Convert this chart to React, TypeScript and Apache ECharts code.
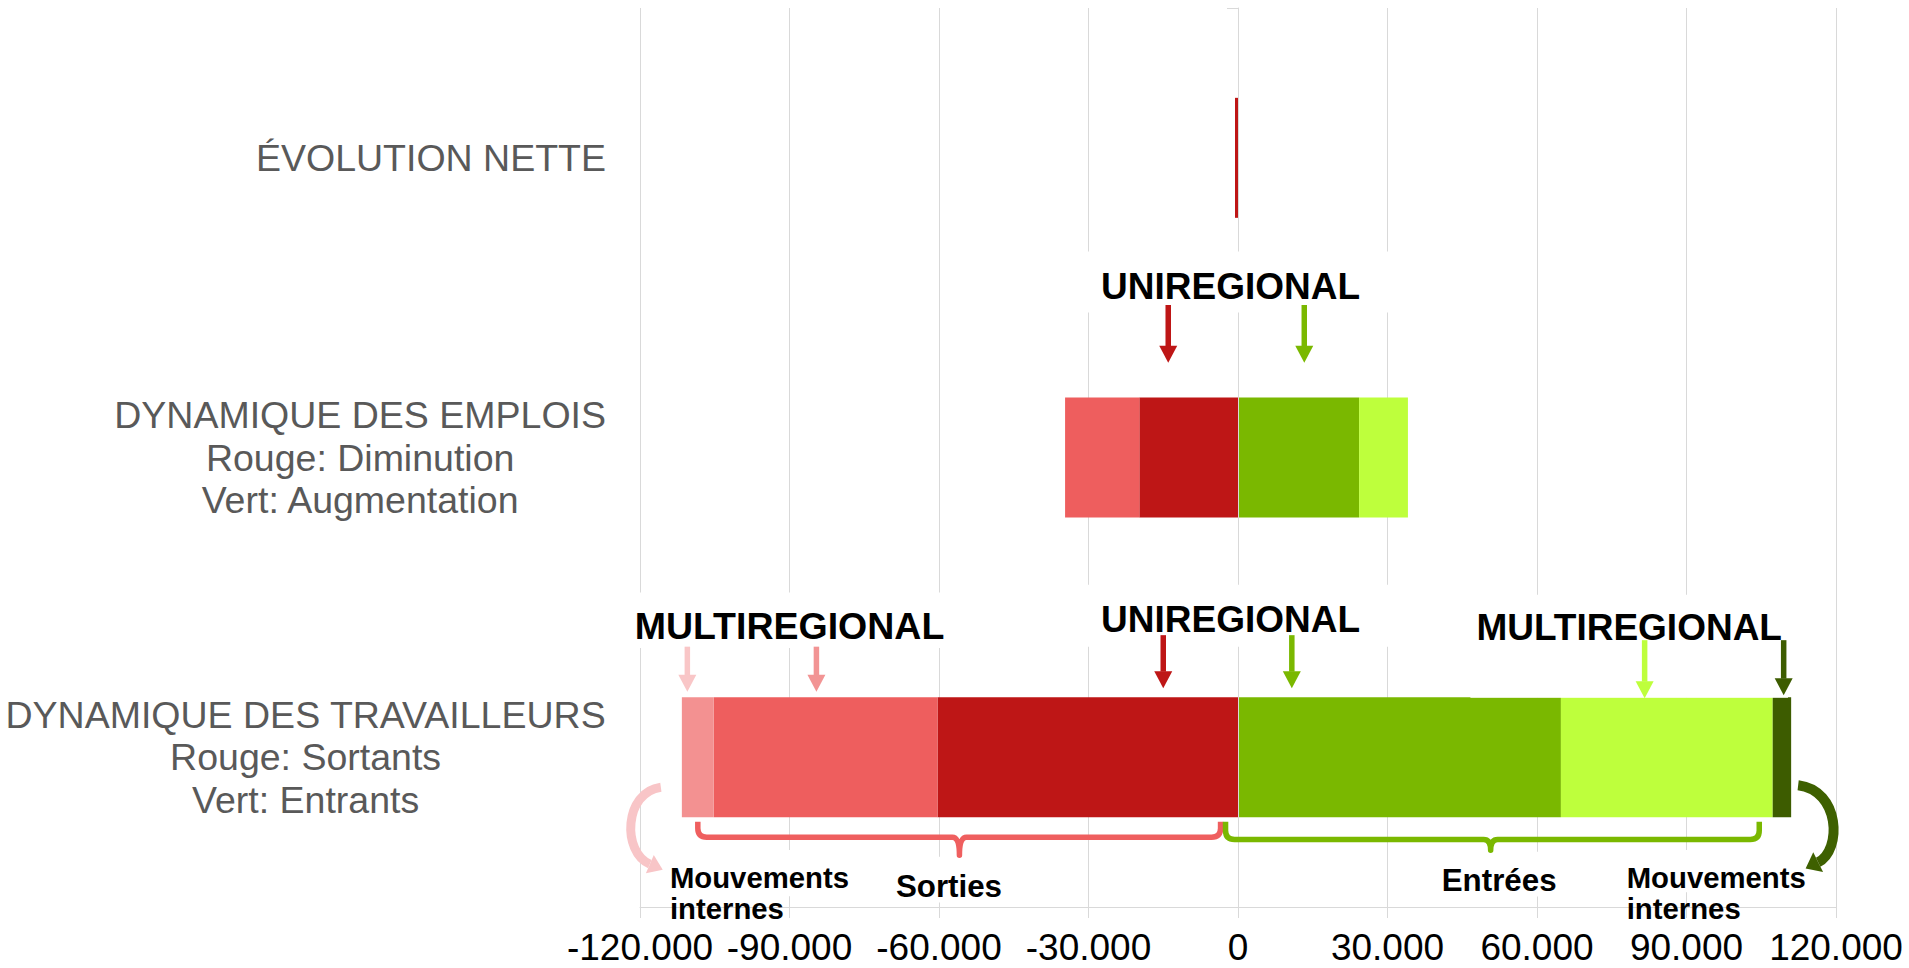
import React, { useEffect, useRef } from 'react';
import * as echarts from 'echarts';

// ---------------- DATA ----------------
const categories = ['ÉVOLUTION NETTE', 'DYNAMIQUE DES EMPLOIS', 'DYNAMIQUE DES TRAVAILLEURS'];
const categorySubtitles: string[][] = [[], ['Rouge: Diminution', 'Vert: Augmentation'], ['Rouge: Sortants', 'Vert: Entrants']];

const xMin = -120000;
const xMax = 120000;
const xInterval = 30000;

const evolutionNette = [-600, null, null];
const sortiesUniregional = [null, -19800, -60300];
const sortiesMultiregional = [null, -14900, -44900];
const sortiesInternes = [null, null, -6400];
const entreesUniregional = [null, 24300, 64800];
const entreesMultiregional = [null, 9800, 42500];
const entreesInternes = [null, null, 3700];

// annotation anchors (in data units / category index)
const regionLabels = [
  { text: 'UNIREGIONAL', x: -1500, cat: 1 },
  { text: 'MULTIREGIONAL', x: -90000, cat: 2 },
  { text: 'UNIREGIONAL', x: -1500, cat: 2 },
  { text: 'MULTIREGIONAL', x: 78500, cat: 2 },
];
const arrowTargets = [
  { x: -14000, cat: 1 },
  { x: 13300, cat: 1 },
  { x: -110500, cat: 2 },
  { x: -84600, cat: 2 },
  { x: -15000, cat: 2 },
  { x: 10800, cat: 2 },
  { x: 81600, cat: 2 },
  { x: 109500, cat: 2 },
];
const braceRanges = [
  { from: -108400, to: -3500, tip: -55900, cat: 2 },
  { from: -2500, to: 104600, tip: 50700, cat: 2 },
];
const bottomLabels = [
  { text: 'Mouvements', x: -114000, cat: 2 },
  { text: 'internes', x: -114000, cat: 2 },
  { text: 'Sorties', x: -58000, cat: 2 },
  { text: 'Entrées', x: 52400, cat: 2 },
  { text: 'Mouvements', x: 78000, cat: 2 },
  { text: 'internes', x: 78000, cat: 2 },
];

// ---------------- STYLES / LAYOUT ----------------
const FONT = "'Liberation Sans', Arial, Helvetica, sans-serif";
const C_DARKRED = '#BE1616';
const C_SALMON = '#EE5E5E';
const C_PINK = '#F39191';
const C_GREEN = '#7AB800';
const C_LIME = '#BEFF3C';
const C_DARKGREEN = '#3D5C00';

const regionLabelStyle = [
  { dy: -171, pad: [16.5, 34, 7.5, 20], fontSize: 37 },
  { dy: -131, pad: [15, 4, 3, 6], fontSize: 37.5 },
  { dy: -138, pad: [16, 34, 9, 20], fontSize: 37 },
  { dy: -130, pad: [14, 6, 52, 6], fontSize: 37 },
];
const arrowStyle = [
  { color: C_DARKRED, dyTop: -152.5, dyTip: -94.8 },
  { color: C_GREEN, dyTop: -152.5, dyTip: -94.8 },
  { color: '#F9C6C7', dyTop: -110.5, dyTip: -65.5 },
  { color: '#F29494', dyTop: -110.5, dyTip: -65.5 },
  { color: C_DARKRED, dyTop: -122, dyTip: -69 },
  { color: C_GREEN, dyTop: -122, dyTip: -69 },
  { color: C_LIME, dyTop: -117, dyTip: -59 },
  { color: C_DARKGREEN, dyTop: -117, dyTip: -62 },
];
const braceStyle = [
  { color: '#EF5F5F', dyTop: 64.5, dyLine: 80, dyTip: 98 },
  { color: C_GREEN, dyTop: 64.5, dyLine: 82.3, dyTip: 93 },
];
const bottomLabelStyle = [
  { align: 'left', dy: 120.5, fontSize: 29.3, pad: [13, 2, 4, 2], bg: true },
  { align: 'left', dy: 151.5, fontSize: 29.3, pad: [0, 0, 0, 0], bg: false },
  { align: 'center', dy: 129.8, fontSize: 31.3, pad: [14.5, 3, 0, 3], bg: true },
  { align: 'center', dy: 123.8, fontSize: 31.3, pad: [13.5, 3, 0, 3], bg: true },
  { align: 'left', dy: 120.5, fontSize: 29.3, pad: [13, 2, 0, 2], bg: true },
  { align: 'left', dy: 151.5, fontSize: 29.3, pad: [0, 0, 0, 0], bg: false },
];

const sum = (arr: (number | null)[][], i: number) => arr.reduce((s, a) => s + (a[i] || 0), 0);
const travIdx = 2;
const leftEnd = sum([sortiesUniregional, sortiesMultiregional, sortiesInternes], travIdx);
const rightEnd = sum([entreesUniregional, entreesMultiregional, entreesInternes], travIdx);

const curveStyle = [
  { x: leftEnd, cat: travIdx, color: '#F8C5C7', width: 9, pts: [[-21, 30], [-58, 35], [-60, 95], [-32, 107]], headLen: 14, headW: 20 },
  { x: rightEnd, cat: travIdx, color: '#3E6000', width: 10, pts: [[7, 28], [49, 33], [51, 93], [27, 105]], headLen: 14, headW: 22 },
];

type Item = any;
const items: Item[] = [];
regionLabels.forEach((l, i) => items.push({ kind: 'label', ...l, ...regionLabelStyle[i], align: 'center', bg: true }));
bottomLabels.forEach((l, i) => items.push({ kind: 'label', ...l, ...bottomLabelStyle[i] }));
arrowTargets.forEach((a, i) => items.push({ kind: 'arrow', ...a, ...arrowStyle[i] }));
braceRanges.forEach((b, i) => items.push({ kind: 'brace', x: b.from, cat: b.cat, range: b, ...braceStyle[i] }));
curveStyle.forEach((c) => items.push({ kind: 'curve', ...c }));

function fmt(v: number) {
  if (v === 0) return '0';
  const s = Math.abs(v).toString().replace(/\B(?=(\d{3})+(?!\d))/g, '.');
  return (v < 0 ? '-' : '') + s;
}

function renderItem(params: any, api: any) {
  const a = items[params.dataIndex];
  const p = api.coord([a.x, a.cat]);
  const px = p[0];
  const py = p[1];
  if (a.kind === 'label') {
    const fs = a.fontSize;
    const lh = fs;
    const pad = a.pad;
    let x = px;
    if (a.align === 'center') x = px - (pad[3] - pad[1]) / 2;
    else x = px - pad[3];
    return {
      type: 'text',
      x,
      y: py + a.dy - lh / 2 - pad[0],
      style: {
        text: a.text,
        fill: '#000',
        fontSize: fs,
        fontWeight: 'bold',
        fontFamily: FONT,
        align: a.align,
        verticalAlign: 'top',
        lineHeight: lh,
        backgroundColor: a.bg ? '#fff' : undefined,
        padding: pad,
      },
    };
  }
  if (a.kind === 'arrow') {
    const sw = 5.5;
    const hw = 18;
    const hl = 17;
    const yTop = py + a.dyTop;
    const yTip = py + a.dyTip;
    return {
      type: 'group',
      children: [
        { type: 'rect', shape: { x: px - sw / 2, y: yTop, width: sw, height: yTip - hl - yTop + 0.5 }, style: { fill: a.color } },
        { type: 'polygon', shape: { points: [[px - hw / 2, yTip - hl], [px + hw / 2, yTip - hl], [px, yTip]] }, style: { fill: a.color } },
      ],
    };
  }
  if (a.kind === 'brace') {
    const x1 = px;
    const x2 = api.coord([a.range.to, a.cat])[0];
    const xt = api.coord([a.range.tip, a.cat])[0];
    const yT = py + a.dyTop;
    const yL = py + a.dyLine;
    const yTip = py + a.dyTip;
    const r = 9;
    const r2 = 7;
    const d = `M${x1} ${yT} L${x1} ${yL - r} Q${x1} ${yL} ${x1 + r} ${yL} L${xt - r2} ${yL} Q${xt} ${yL} ${xt} ${yTip} Q${xt} ${yL} ${xt + r2} ${yL} L${x2 - r} ${yL} Q${x2} ${yL} ${x2} ${yL - r} L${x2} ${yT}`;
    return {
      type: 'path',
      shape: { pathData: d },
      style: { stroke: a.color, lineWidth: 5.5, fill: 'none', lineJoin: 'round' },
    };
  }
  if (a.kind === 'curve') {
    const P = a.pts.map((q: number[]) => [px + q[0], py + q[1]]);
    const dx = P[3][0] - P[2][0];
    const dy = P[3][1] - P[2][1];
    const len = Math.sqrt(dx * dx + dy * dy);
    const ux = dx / len;
    const uy = dy / len;
    const nx = -uy;
    const ny = ux;
    const tip = [P[3][0] + ux * a.headLen, P[3][1] + uy * a.headLen];
    const hw = a.headW / 2;
    return {
      type: 'group',
      children: [
        {
          type: 'bezierCurve',
          shape: { x1: P[0][0], y1: P[0][1], cpx1: P[1][0], cpy1: P[1][1], cpx2: P[2][0], cpy2: P[2][1], x2: P[3][0], y2: P[3][1] },
          style: { stroke: a.color, lineWidth: a.width, fill: null },
        },
        {
          type: 'polygon',
          shape: { points: [[P[3][0] + nx * hw, P[3][1] + ny * hw], [P[3][0] - nx * hw, P[3][1] - ny * hw], tip] },
          style: { fill: a.color },
        },
      ],
    };
  }
  return null;
}

const barSeries = (name: string, data: (number | null)[], color: string) => ({
  name,
  type: 'bar',
  stack: 'total',
  barWidth: 120,
  data,
  itemStyle: { color },
  emphasis: { disabled: true },
  silent: true,
});

const option: any = {
  animation: false,
  backgroundColor: '#fff',
  grid: { left: 640, right: 73, top: 8, bottom: 61, containLabel: false, outerBoundsMode: 'none' },
  xAxis: {
    type: 'value',
    min: xMin,
    max: xMax,
    interval: xInterval,
    axisLine: { show: true, lineStyle: { color: '#D9D9D9', width: 1 } },
    axisTick: { show: true, length: 11, lineStyle: { color: '#D9D9D9', width: 1 } },
    splitLine: { show: true, lineStyle: { color: '#D9D9D9', width: 1 } },
    axisLabel: { formatter: (v: number) => fmt(v), color: '#000', fontSize: 37, lineHeight: 29, fontFamily: FONT, margin: 25.5 },
  },
  yAxis: [
    {
      type: 'category',
      data: categories,
      inverse: true,
      position: 'left',
      axisLine: { show: false, onZero: false },
      axisTick: { show: false },
      splitLine: { show: false },
      axisLabel: {
        margin: 34,
        fontSize: 37.5,
        color: '#595959',
        fontFamily: FONT,
        formatter: (value: string, index: number) =>
          [value, ...categorySubtitles[index]].map((l) => `{c|${l}}`).join('\n'),
        rich: { c: { align: 'center', fontSize: 37.5, lineHeight: 42.5, color: '#595959', fontFamily: FONT } },
      },
    },
    {
      type: 'category',
      data: categories,
      inverse: true,
      position: 'left',
      z: 5,
      axisLine: { show: true, onZero: true, lineStyle: { color: '#D9D9D9', width: 1 } },
      axisTick: { show: true, length: 11, lineStyle: { color: '#D9D9D9', width: 1 } },
      axisLabel: { show: false },
      splitLine: { show: false },
    },
  ],
  series: [
    barSeries('Évolution nette', evolutionNette, C_DARKRED),
    barSeries('Sorties uniregional', sortiesUniregional, C_DARKRED),
    barSeries('Sorties multiregional', sortiesMultiregional, C_SALMON),
    barSeries('Sorties internes', sortiesInternes, C_PINK),
    barSeries('Entrées uniregional', entreesUniregional, C_GREEN),
    barSeries('Entrées multiregional', entreesMultiregional, C_LIME),
    barSeries('Entrées internes', entreesInternes, C_DARKGREEN),
    {
      type: 'custom',
      name: 'annotations',
      coordinateSystem: 'cartesian2d',
      xAxisIndex: 0,
      yAxisIndex: 0,
      clip: false,
      silent: true,
      z: 10,
      encode: { x: 0, y: 1 },
      data: items.map((a) => [a.x, a.cat]),
      renderItem,
    },
  ],
};

export default function App() {
  const ref = useRef<HTMLDivElement>(null);
  useEffect(() => {
    document.body.style.margin = '0';
    const chart = echarts.init(ref.current as HTMLDivElement, null, { renderer: 'svg' });
    chart.setOption(option);
    return () => chart.dispose();
  }, []);
  return (
    <div
      ref={ref}
      style={{ position: 'fixed', left: 0, top: 0, width: 1909, height: 968, background: '#fff' }}
    />
  );
}
